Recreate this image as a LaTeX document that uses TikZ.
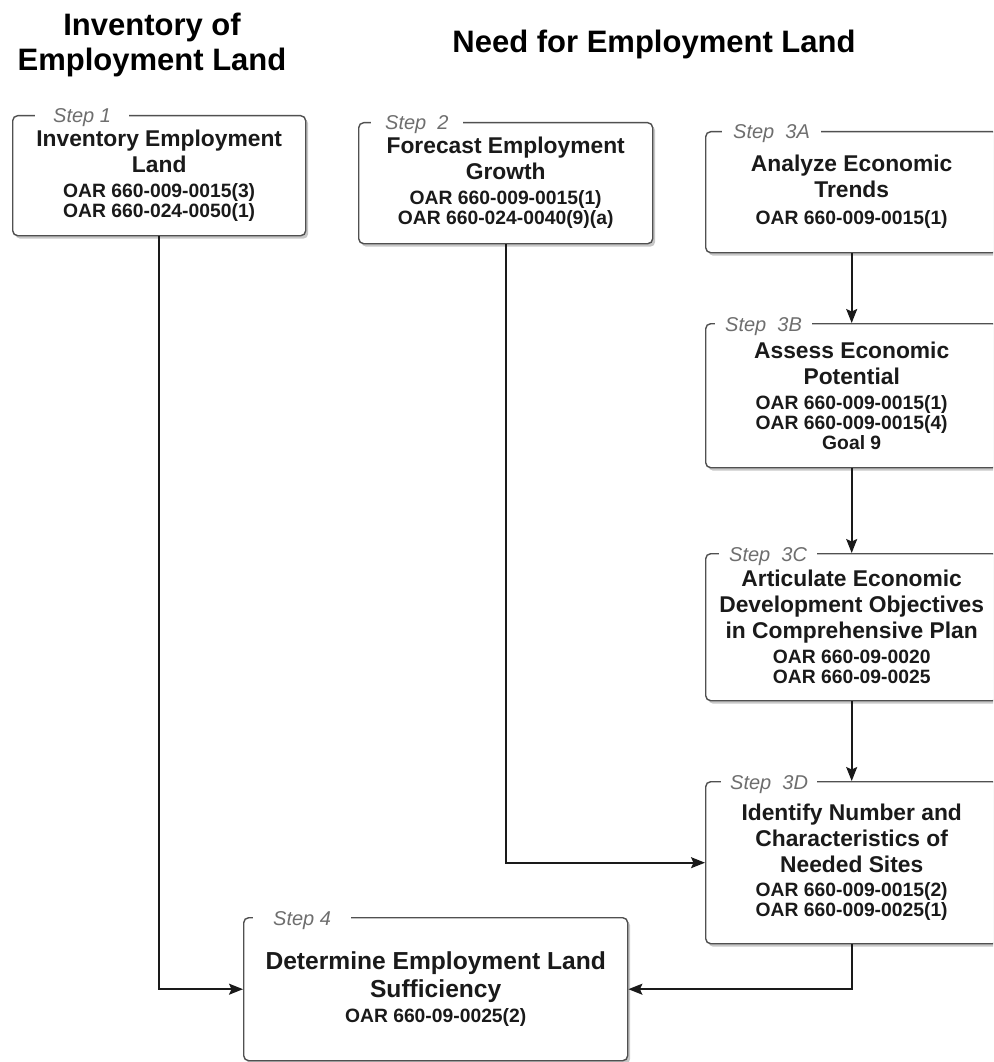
\documentclass[tikz,border=0pt]{standalone}
\usepackage{fontspec}
\setmainfont{Liberation Sans}
\usetikzlibrary{arrows.meta,shadows}
\definecolor{boxline}{HTML}{505050}
\definecolor{labgray}{HTML}{6E6E6E}
\definecolor{ink}{HTML}{1A1A1A}
\newcommand\oarf{\fontsize{19.3}{20}\selectfont}
\begin{document}
\begin{tikzpicture}[x=1pt,y=-1pt,
  stepbox/.style={draw=boxline, line width=1.4pt, rounded corners=5pt, fill=white,
    inner sep=0pt, anchor=north west, align=center, text=ink,
    font=\bfseries\fontsize{22.8}{26}\selectfont,
    drop shadow={shadow xshift=2.5pt, shadow yshift=-3pt, opacity=0.22, fill=black}},
  steplab/.style={fill=white, inner ysep=2pt, anchor=base west, text=labgray,
    font=\itshape\fontsize{20}{22}\selectfont},
  heading/.style={font=\bfseries\fontsize{31}{35}\selectfont, align=center, inner sep=0pt},
  flow/.style={draw=ink, line width=1.6pt, -{Stealth[length=14pt,width=11pt,inset=2.5pt]}}
]
\useasboundingbox (0,0) rectangle (993,1062);
\clip (0,0) rectangle (993,1062);
\fill[white] (0,0) rectangle (993,1062);

% headings
\node[heading, anchor=center] (h1) at (152,44.5) {Inventory of\\Employment Land};
\node[heading, anchor=base] (h2) at (654,53) {Need for Employment Land};

% boxes
\node[stepbox, minimum width=293, minimum height=120] (s1) at (12,115)
  {Inventory Employment\\Land\\[-1pt]{\oarf OAR 660-009-0015(3)}\\[-6pt]{\oarf OAR 660-024-0050(1)}};
\node[stepbox, minimum width=294, minimum height=121] (s2) at (358,122)
  {Forecast Employment\\Growth\\[-1pt]{\oarf OAR 660-009-0015(1)}\\[-6pt]{\oarf OAR 660-024-0040(9)(a)}};
\node[stepbox, minimum width=292, minimum height=121] (s3a) at (705,131)
  {Analyze Economic\\Trends\\[1pt]{\oarf OAR 660-009-0015(1)}};
\node[stepbox, minimum width=292, minimum height=144] (s3b) at (705,323)
  {Assess Economic\\Potential\\[-1pt]{\oarf OAR 660-009-0015(1)}\\[-6pt]{\oarf OAR 660-009-0015(4)}\\[-6pt]{\oarf Goal 9}};
\node[stepbox, minimum width=292, minimum height=147] (s3c) at (705,553)
  {Articulate Economic\\Development Objectives\\in Comprehensive Plan\\[-1pt]{\oarf OAR 660-09-0020}\\[-6pt]{\oarf OAR 660-09-0025}};
\node[stepbox, minimum width=292, minimum height=162] (s3d) at (705,781)
  {Identify Number and\\Characteristics of\\Needed Sites\\[-2pt]{\oarf OAR 660-009-0015(2)}\\[-6pt]{\oarf OAR 660-009-0025(1)}};
\node[stepbox, minimum width=384, minimum height=143, font=\bfseries\fontsize{24.6}{28}\selectfont] (s4) at (243,917)
  {Determine Employment Land\\Sufficiency\\[-3pt]{\oarf OAR 660-09-0025(2)}};

% step labels
\node[steplab, inner xsep=18pt] (l1) at ([xshift=23pt,yshift=-8pt]s1.north west) {Step 1};
\node[steplab, inner xsep=14pt] (l2) at ([xshift=13pt,yshift=-8pt]s2.north west) {Step~~2};
\node[steplab, inner xsep=11pt] (l3a) at ([xshift=17pt,yshift=-8pt]s3a.north west) {Step~~3A};
\node[steplab, inner xsep=10pt] (l3b) at ([xshift=10pt,yshift=-8pt]s3b.north west) {Step~~3B};
\node[steplab, inner xsep=10pt] (l3c) at ([xshift=14pt,yshift=-8pt]s3c.north west) {Step~~3C};
\node[steplab, inner xsep=9pt] (l3d) at ([xshift=16pt,yshift=-8pt]s3d.north west) {Step~~3D};
\node[steplab, inner xsep=20pt] (l4) at ([xshift=10pt,yshift=-8pt]s4.north west) {Step 4};

% connectors
\draw[flow] (s1.south) |- (s4.west);
\draw[flow] (s2.south) |- (s3d.west);
\draw[flow] (s3a.south) -- (s3b.north);
\draw[flow] (s3b.south) -- (s3c.north);
\draw[flow] (s3c.south) -- (s3d.north);
\draw[flow] (s3d.south) |- (s4.east);
\end{tikzpicture}
\end{document}
